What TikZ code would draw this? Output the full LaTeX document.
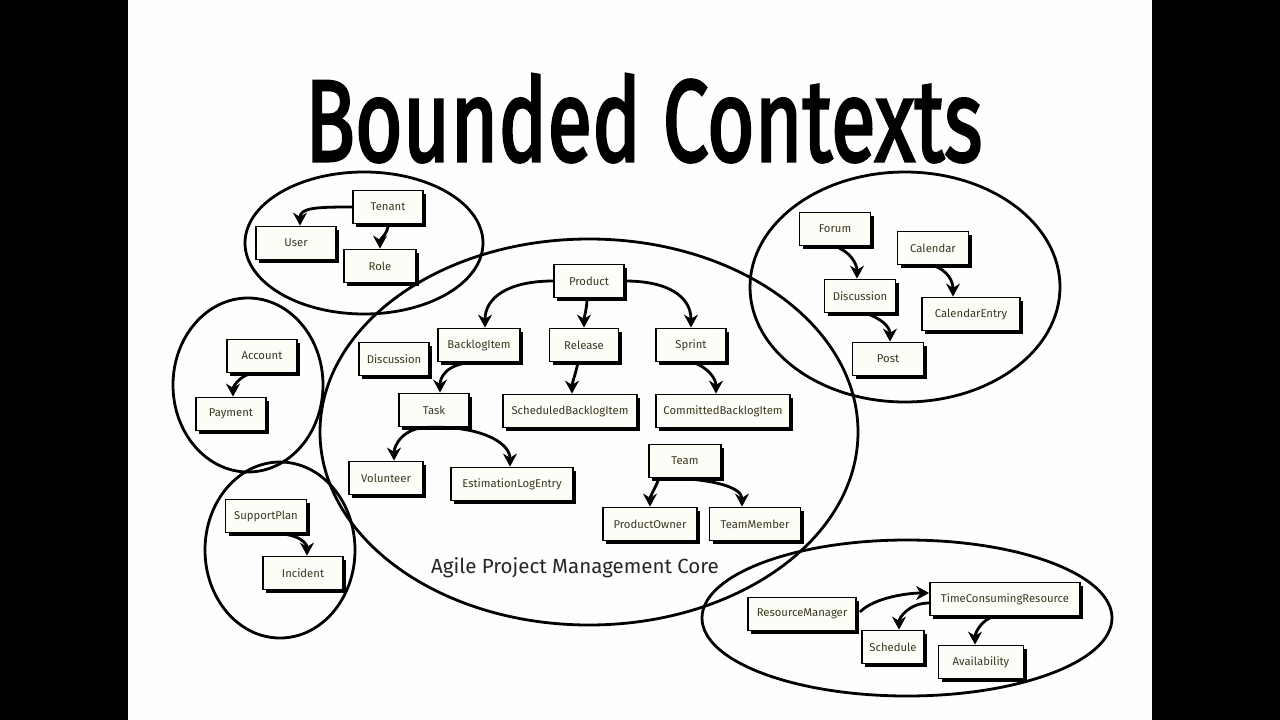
\documentclass[tikz,border=0pt]{standalone}
\usepackage{graphicx}
\usepackage{fontspec}
\setmainfont{Fira Sans}
\newfontfamily\titlefont[FakeBold=2.6]{Fira Sans}
\usetikzlibrary{arrows.meta,shadows}
\definecolor{labelink}{HTML}{3A3820}
\definecolor{boxfill}{HTML}{FDFDF8}
\definecolor{slide}{HTML}{FEFEFE}

\begin{document}
\begin{tikzpicture}[x=1pt,y=-1pt,
  entity/.style={draw=black, line width=1.8pt, fill=boxfill, text=labelink,
    font=\fontsize{11.3}{13}\selectfont, minimum height=33pt, inner sep=0pt,
    drop shadow={shadow xshift=3pt, shadow yshift=-3pt, fill=black, opacity=1}},
  context/.style={draw=black, line width=2.8pt},
  rel/.style={line width=2.8pt, -{Stealth[length=13pt,width=14pt]}}
]
\useasboundingbox (0,0) rectangle (1280,720);
% slide with dark side bars
\fill[black] (0,0) rectangle (1280,720);
\fill[slide] (128,0) rectangle (1152,720);

% title
\node[anchor=base west, inner sep=0pt] (title) at (305,161)
  {\resizebox{677pt}{87pt}{\titlefont Bounded Contexts}};

% bounded contexts
\draw[context] (364,243) ellipse [x radius=119, y radius=71];
\draw[context] (248,385) ellipse [x radius=75, y radius=87];
\draw[context] (280,550) ellipse [x radius=75, y radius=88];
\draw[context] (905,287) ellipse [x radius=155, y radius=115];
\draw[context] (907,618) ellipse [x radius=205, y radius=78];
\draw[context] (589,432) ellipse [x radius=269, y radius=193];

\node[text=black!85, font=\fontsize{20.5}{22}\selectfont] (corelabel) at (575,568) {Agile Project Management Core};

% identity and access
\node[entity, minimum width=70pt] (tenant) at (388,207) {Tenant};
\node[entity, minimum width=80pt] (user) at (296,243) {User};
\node[entity, minimum width=72pt] (role) at (380,266) {Role};
% billing
\node[entity, minimum width=70pt] (account) at (262,356) {Account};
\node[entity, minimum width=70pt] (payment) at (231,414) {Payment};
% support
\node[entity, minimum width=81pt] (support) at (266,516) {SupportPlan};
\node[entity, minimum width=80pt] (incident) at (303,573) {Incident};
% core
\node[entity, minimum width=70pt] (product) at (589,281) {Product};
\node[entity, minimum width=82pt] (backlog) at (479,345) {BacklogItem};
\node[entity, minimum width=69pt] (release) at (584,345) {Release};
\node[entity, minimum width=70pt] (sprint) at (691,345) {Sprint};
\node[entity, minimum width=70pt] (discussion) at (394,359) {Discussion};
\node[entity, minimum width=70pt] (task) at (434,410) {Task};
\node[entity, minimum width=134pt] (sbi) at (570,411) {ScheduledBacklogItem};
\node[entity, minimum width=134pt] (cbi) at (723,411) {CommittedBacklogItem};
\node[entity, minimum width=74pt] (volunteer) at (386,478) {Volunteer};
\node[entity, minimum width=122pt] (ele) at (512,484) {EstimationLogEntry};
\node[entity, minimum width=72pt] (team) at (685,461) {Team};
\node[entity, minimum width=94pt] (po) at (650,524) {ProductOwner};
\node[entity, minimum width=91pt] (tm) at (755,524) {TeamMember};
% collaboration
\node[entity, minimum width=71pt] (forum) at (835,229) {Forum};
\node[entity, minimum width=71pt] (calendar) at (933,248) {Calendar};
\node[entity, minimum width=71pt] (forumdisc) at (860,296) {Discussion};
\node[entity, minimum width=98pt] (calentry) at (971,314) {CalendarEntry};
\node[entity, minimum width=71pt] (post) at (888,359) {Post};
% resources
\node[entity, minimum width=108pt] (rm) at (802,614) {ResourceManager};
\node[entity, minimum width=150pt] (tcr) at (1005,599) {TimeConsumingResource};
\node[entity, minimum width=62pt] (schedule) at (893,647) {Schedule};
\node[entity, minimum width=85pt] (avail) at (981,662) {Availability};

% relationships
\draw[rel] (tenant.west) .. controls +(-35,0) and +(0,-18) .. ([xshift=4pt]user.north);
\draw[rel] (tenant.south) .. controls +(0,10) and +(0,-10) .. (role.north);
\draw[rel] ([xshift=-10pt]account.south) .. controls +(-12,2) and +(0,-10) .. ([xshift=2pt]payment.north);
\draw[rel] ([xshift=6pt]support.south) .. controls +(28,0) and +(0,-12) .. ([xshift=4pt]incident.north);

\draw[rel] (product.west) .. controls +(-45,0) and +(0,-30) .. ([xshift=6pt]backlog.north);
\draw[rel] ([xshift=-2pt]product.south) .. controls +(0,10) and +(0,-10) .. (release.north);
\draw[rel] (product.east) .. controls +(45,0) and +(0,-30) .. (sprint.north);
\draw[rel] ([xshift=-8pt]backlog.south) .. controls +(-25,2) and +(0,-15) .. ([xshift=6pt]task.north);
\draw[rel] ([xshift=-6pt]release.south) .. controls +(-2,10) and +(0,-10) .. ([xshift=2pt]sbi.north);
\draw[rel] ([xshift=2pt]sprint.south) .. controls +(15,5) and +(0,-15) .. ([xshift=-7pt]cbi.north);
\draw[rel] ([xshift=-6pt]task.south) .. controls +(-25,0) and +(0,-15) .. ([xshift=8pt]volunteer.north);
\draw[rel] ([xshift=-6pt]task.south) .. controls +(50,-2) and +(0,-25) .. ([xshift=-2pt]ele.north);
\draw[rel] ([xshift=-26pt]team.south) .. controls +(-3,8) and +(0,-10) .. (po.north);
\draw[rel] ([xshift=-16pt]team.south) .. controls +(40,0) and +(0,-20) .. ([xshift=-13pt]tm.north);

\draw[rel] (forum.south) .. controls +(15,5) and +(0,-15) .. ([xshift=-3pt]forumdisc.north);
\draw[rel] (calendar.south) .. controls +(15,5) and +(0,-15) .. ([xshift=-18pt]calentry.north);
\draw[rel] ([xshift=6pt]forumdisc.south) .. controls +(15,5) and +(0,-15) .. ([xshift=2pt]post.north);

\draw[rel] ([xshift=3pt,yshift=2pt]rm.east) .. controls +(15,-15) and +(-20,0) .. ([yshift=6pt]tcr.west);
\draw[rel] ([yshift=-4pt]tcr.west) .. controls +(-20,0) and +(0,-12) .. ([xshift=6pt]schedule.north);
\draw[rel] ([xshift=-11pt]tcr.south) .. controls +(-12,3) and +(0,-12) .. ([xshift=-6pt]avail.north);
\end{tikzpicture}
\end{document}
